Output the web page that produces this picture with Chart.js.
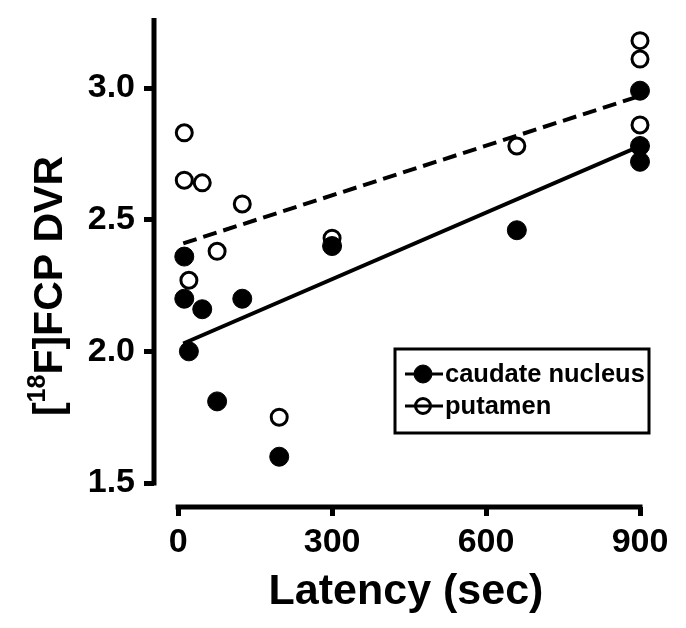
<!DOCTYPE html>
<html>
<head>
<meta charset="utf-8">
<script src="https://cdn.jsdelivr.net/npm/chart.js@4"></script>
<style>
  html, body { margin: 0; padding: 0; background: #fff; }
  #wrap { width: 686px; height: 628px; }
</style>
</head>
<body>
<div id="wrap"><canvas id="c" width="686" height="628"></canvas></div>
<script>
// ---- data ----
const latency      = [12, 12, 47, 21, 76, 125, 197, 300, 660, 900, 900, 900];
const dvrCaudate   = [2.36, 2.20, 2.16, 2.00, 1.81, 2.20, 1.60, 2.40, 2.46, 2.99, 2.78, 2.72];
const dvrPutamen   = [2.83, 2.65, 2.64, 2.27, 2.38, 2.56, 1.75, 2.43, 2.78, 3.18, 3.11, 2.86];
const fitLatency   = [10, 900];
const fitCaudate   = [2.03, 2.78];
const fitPutamen   = [2.41, 2.97];
const xTicks       = [0, 300, 600, 900];
const yTicks       = [1.5, 2.0, 2.5, 3.0];
const seriesNames  = ['caudate nucleus', 'putamen'];
const xTitle       = 'Latency (sec)';

const FONT = "'Liberation Sans', Arial, Helvetica, sans-serif";
const pts = (xs, ys) => xs.map((x, i) => ({ x, y: ys[i] }));

// axis lines only between the end ticks, titles (y one with superscript), boxed legend
const figurePlugin = {
  id: 'figure',
  afterDraw(chart) {
    const { ctx, chartArea, scales: { x, y } } = chart;
    ctx.save();
    ctx.strokeStyle = '#000';
    ctx.lineWidth = 5;
    ctx.lineCap = 'butt';
    // y axis
    ctx.beginPath();
    ctx.moveTo(chartArea.left, y.getPixelForValue(yTicks[0]) + 2.5);
    ctx.lineTo(chartArea.left, chartArea.top);
    ctx.stroke();
    // x axis
    ctx.beginPath();
    ctx.moveTo(x.getPixelForValue(xTicks[0]) - 2.5, chartArea.bottom);
    ctx.lineTo(x.getPixelForValue(xTicks[xTicks.length - 1]) + 2.5, chartArea.bottom);
    ctx.stroke();

    // x title
    ctx.fillStyle = '#000';
    ctx.font = 'bold 43px ' + FONT;
    ctx.textAlign = 'center';
    ctx.textBaseline = 'alphabetic';
    ctx.fillText(xTitle, 406, 604);

    // y title: [18F]FCP DVR
    ctx.textAlign = 'left';
    ctx.translate(62, 286);
    ctx.rotate(-Math.PI / 2);
    const big = 'bold 41px ' + FONT, small = 'bold 25px ' + FONT;
    ctx.font = big;
    const w1 = ctx.measureText('[').width, w3 = ctx.measureText('F]FCP DVR').width;
    ctx.font = small;
    const w2 = ctx.measureText('18').width;
    let cx = -(w1 + w2 + w3) / 2;
    ctx.font = big; ctx.fillText('[', cx, 0); cx += w1;
    ctx.font = small; ctx.fillText('18', cx, -17); cx += w2;
    ctx.font = big; ctx.fillText('F]FCP DVR', cx, 0);
    ctx.restore();

    // legend: line through the marker, as in the original
    ctx.save();
    ctx.strokeStyle = '#000';
    ctx.lineWidth = 3;
    ctx.strokeRect(395, 349, 254, 84);
    ctx.font = 'bold 25.5px ' + FONT;
    ctx.textBaseline = 'middle';
    ctx.fillStyle = '#000';
    [0, 1].forEach(i => {
      const ds = chart.data.datasets[i];
      const ly = 374 + i * 32;
      ctx.beginPath();
      ctx.arc(423, ly, i === 0 ? 9 : 7.5, 0, Math.PI * 2);
      if (i === 0) { ctx.fillStyle = ds.backgroundColor; ctx.fill(); }
      ctx.lineWidth = ds.borderWidth;
      ctx.stroke();
      ctx.lineWidth = 3;
      ctx.beginPath(); ctx.moveTo(405, ly); ctx.lineTo(443, ly); ctx.stroke();
      ctx.fillStyle = '#000';
      ctx.fillText(seriesNames[i], 445, ly + 1);
    });
    ctx.restore();
  }
};

new Chart(document.getElementById('c'), {
  type: 'scatter',
  data: {
    datasets: [
      { label: seriesNames[0], data: pts(latency, dvrCaudate), backgroundColor: '#000', borderColor: '#000',
        borderWidth: 1, pointRadius: 9.5, pointHoverRadius: 9.5, clip: false },
      { label: seriesNames[1], data: pts(latency, dvrPutamen), backgroundColor: '#fff', borderColor: '#000',
        borderWidth: 3, pointRadius: 8, pointHoverRadius: 8, clip: false },
      { type: 'line', label: 'fit caudate', data: pts(fitLatency, fitCaudate), borderColor: '#000',
        borderWidth: 4, pointRadius: 0, fill: false },
      { type: 'line', label: 'fit putamen', data: pts(fitLatency, fitPutamen), borderColor: '#000',
        borderWidth: 4, borderDash: [14, 7], pointRadius: 0, fill: false }
    ]
  },
  options: {
    responsive: false,
    animation: false,
    layout: { padding: { left: 0, top: 18, right: 46, bottom: 0 } },
    plugins: { legend: { display: false }, tooltip: { enabled: false } },
    scales: {
      x: {
        type: 'linear', min: -47, max: 900,
        afterBuildTicks: s => { s.ticks = xTicks.map(v => ({ value: v })); },
        afterFit: s => { s.height = 121; s.paddingLeft = 0; s.paddingRight = 0; },
        grid: { drawOnChartArea: false, drawTicks: true, tickLength: 9, lineWidth: 5, color: '#000' },
        border: { display: false },
        ticks: { color: '#000', padding: 6, maxRotation: 0, font: { family: FONT, size: 34, weight: 'bold' } }
      },
      y: {
        type: 'linear', min: 1.409, max: 3.266,
        afterBuildTicks: s => { s.ticks = yTicks.map(v => ({ value: v })); },
        afterFit: s => { s.width = 154; s.paddingTop = 0; s.paddingBottom = 0; },
        grid: { drawOnChartArea: false, drawTicks: true, tickLength: 10, lineWidth: 5, color: '#000' },
        border: { display: false },
        ticks: { color: '#000', padding: 9, callback: v => v.toFixed(1), font: { family: FONT, size: 34, weight: 'bold' } }
      }
    }
  },
  plugins: [figurePlugin]
});
</script>
</body>
</html>
